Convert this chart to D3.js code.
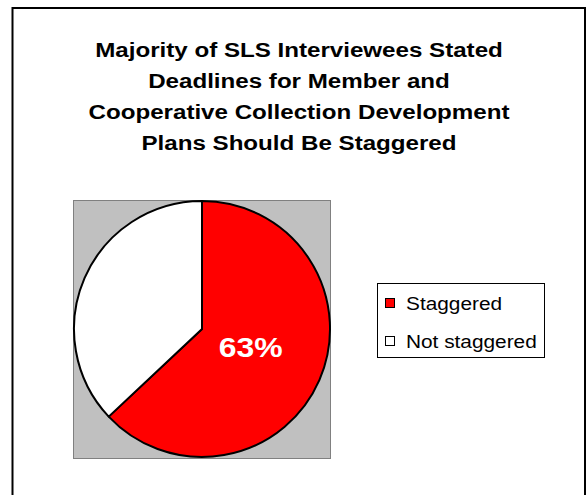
<!DOCTYPE html>
<html><head><meta charset="utf-8">
<script src="https://cdn.jsdelivr.net/npm/d3@7"></script>
<style>body{margin:0;background:#fff}svg{display:block}</style>
</head><body>
<script>
const titleLines = ["Majority of SLS Interviewees Stated","Deadlines for Member and","Cooperative Collection Development","Plans Should Be Staggered"];
const categories = ["Staggered","Not staggered"];
const values = [63, 37];
const colors = ["#FF0000","#FFFFFF"];
const labels = ["63%", ""];

const W=587,H=495;
const FONT="Liberation Sans, Arial, sans-serif";
const svg=d3.select("body").append("svg").attr("width",W).attr("height",H);
svg.append("rect").attr("x",12.5).attr("y",8).attr("width",572.5).attr("height",H+10)
  .attr("fill","#fff").attr("stroke","#000").attr("stroke-width",2);

svg.append("g").selectAll("text").data(titleLines).join("text")
  .attr("transform",(d,i)=>`translate(299,${57+i*31}) scale(1.15,1)`).attr("text-anchor","middle")
  .attr("font-family",FONT).attr("font-weight","bold").attr("font-size",21)
  .text(d=>d);

// plot area
svg.append("rect").attr("x",73.5).attr("y",200.5).attr("width",257).attr("height",258)
  .attr("fill","#C0C0C0").attr("stroke","#808080").attr("stroke-width",1);

const cx=202, cy=329, r=128;
const pie=d3.pie().sort(null).value(d=>d)(values);
const arc=d3.arc().innerRadius(0).outerRadius(r);
const g=svg.append("g").attr("transform",`translate(${cx},${cy})`);
g.selectAll("path").data(pie).join("path").attr("d",arc)
  .attr("fill",(d,i)=>colors[i]).attr("stroke","#000").attr("stroke-width",2).attr("stroke-linejoin","round");
g.selectAll("text").data(pie).join("text")
  .attr("transform",d=>{const c=arc.centroid(d);return `translate(${c[0]-10},${c[1]+3}) scale(1.14,1)`;})
  .attr("text-anchor","middle")
  .attr("font-family",FONT).attr("font-weight","bold").attr("font-size",28)
  .attr("fill","#fff").text((d,i)=>labels[i]);

// legend
const lg=svg.append("g");
lg.append("rect").attr("x",377.5).attr("y",283.5).attr("width",167).attr("height",74)
  .attr("fill","#fff").attr("stroke","#000").attr("stroke-width",1);
const items=lg.selectAll("g").data(categories).join("g")
  .attr("transform",(d,i)=>`translate(385,${298+i*38})`);
items.append("rect").attr("x",0.5).attr("y",0.5).attr("width",9).attr("height",9)
  .attr("fill",(d,i)=>colors[i]).attr("stroke","#000").attr("stroke-width",1);
items.append("text").attr("transform","translate(21,11.5) scale(1.19,1)")
  .attr("font-family",FONT).attr("font-size",17.5).text(d=>d);
</script>
</body></html>
